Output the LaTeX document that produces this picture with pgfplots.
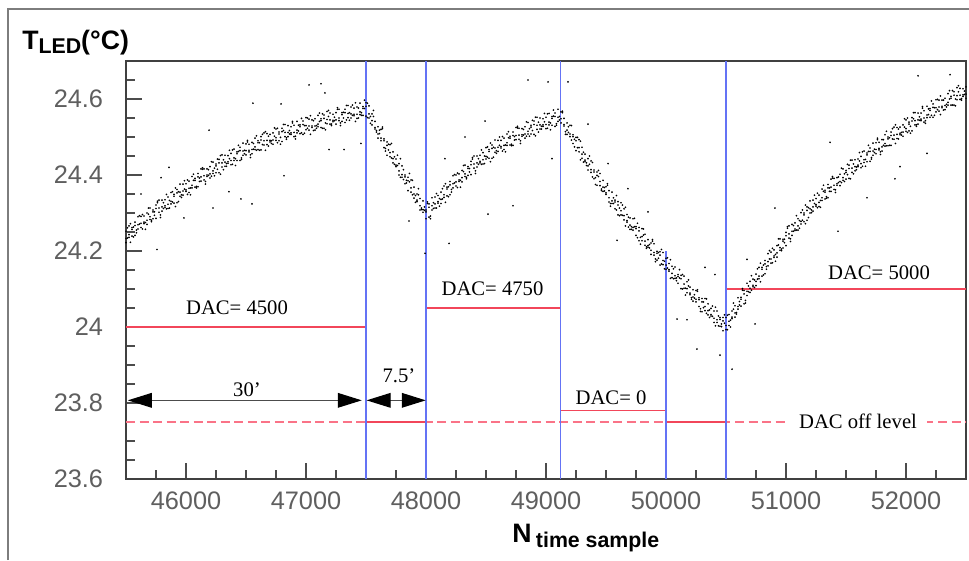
\documentclass[border=0pt]{standalone}
\usepackage{fontspec}
\setmainfont{Liberation Serif}
\setsansfont{Liberation Sans}
\usepackage{pgfplots}
\usepackage{pgfplotstable}
\pgfplotsset{compat=1.18}
\usetikzlibrary{arrows.meta}
\definecolor{vblue}{RGB}{100,115,245}
\definecolor{dacred}{RGB}{242,70,90}
\definecolor{dashred}{RGB}{250,115,135}
\definecolor{tickgray}{RGB}{95,95,95}
\definecolor{framegray}{RGB}{125,125,125}

\pgfplotstableread{
x a b c
45500 24.252 24.233 24.222
45525 24.243 24.266 24.236
45550 24.262 24.239 24.257
45575 24.241 24.267 24.276
45600 24.269 24.258 24.290
45625 24.291 24.273 24.262
45650 24.272 24.292 24.276
45675 24.300 24.281 24.270
45700 24.290 24.313 24.283
45725 24.308 24.285 24.303
45750 24.286 24.312 24.321
45775 24.313 24.302 24.334
45800 24.334 24.316 24.305
45825 24.315 24.335 24.319
45850 24.342 24.323 24.312
45875 24.331 24.354 24.324
45900 24.349 24.326 24.344
45925 24.327 24.353 24.362
45950 24.355 24.344 24.376
45975 24.376 24.358 24.347
46000 24.357 24.377 24.361
46025 24.384 24.365 24.354
46050 24.373 24.396 24.366
46075 24.391 24.368 24.386
46100 24.369 24.395 24.404
46125 24.395 24.384 24.416
46150 24.416 24.398 24.387
46175 24.396 24.416 24.400
46200 24.422 24.403 24.392
46225 24.411 24.434 24.404
46250 24.429 24.406 24.424
46275 24.406 24.432 24.441
46300 24.432 24.421 24.453
46325 24.452 24.434 24.423
46350 24.431 24.451 24.435
46375 24.457 24.438 24.427
46400 24.445 24.468 24.438
46425 24.461 24.438 24.456
46450 24.438 24.464 24.473
46475 24.463 24.452 24.484
46500 24.482 24.464 24.453
46525 24.461 24.481 24.465
46550 24.486 24.467 24.456
46575 24.474 24.497 24.467
46600 24.490 24.467 24.485
46625 24.466 24.492 24.501
46650 24.490 24.479 24.511
46675 24.509 24.491 24.480
46700 24.487 24.507 24.491
46725 24.511 24.492 24.481
46750 24.498 24.521 24.491
46775 24.513 24.490 24.508
46800 24.488 24.514 24.523
46825 24.512 24.501 24.533
46850 24.530 24.512 24.501
46875 24.507 24.527 24.511
46900 24.531 24.512 24.501
46925 24.518 24.541 24.511
46950 24.532 24.509 24.527
46975 24.507 24.533 24.542
47000 24.530 24.519 24.551
47025 24.547 24.529 24.518
47050 24.525 24.545 24.529
47075 24.548 24.529 24.518
47100 24.534 24.557 24.527
47125 24.548 24.525 24.543
47150 24.523 24.549 24.558
47175 24.546 24.535 24.567
47200 24.563 24.545 24.534
47225 24.540 24.560 24.544
47250 24.564 24.545 24.534
47275 24.550 24.573 24.543
47300 24.564 24.541 24.559
47325 24.538 24.564 24.573
47350 24.562 24.551 24.583
47375 24.579 24.561 24.550
47400 24.556 24.576 24.560
47425 24.579 24.560 24.549
47450 24.566 24.589 24.559
47475 24.580 24.557 24.575
47500 24.555 24.581 24.590
47525 24.561 24.550 24.582
47550 24.561 24.543 24.532
47575 24.521 24.541 24.525
47600 24.527 24.508 24.497
47625 24.497 24.520 24.490
47650 24.495 24.472 24.490
47675 24.452 24.478 24.487
47700 24.459 24.448 24.480
47725 24.461 24.443 24.432
47750 24.422 24.442 24.426
47775 24.430 24.411 24.400
47800 24.401 24.424 24.394
47825 24.400 24.377 24.395
47850 24.359 24.385 24.394
47875 24.366 24.355 24.387
47900 24.368 24.350 24.339
47925 24.330 24.350 24.334
47950 24.338 24.319 24.308
47975 24.309 24.332 24.302
48000 24.308 24.285 24.303
48025 24.289 24.315 24.324
48050 24.319 24.308 24.340
48075 24.342 24.324 24.313
48100 24.326 24.346 24.330
48125 24.355 24.336 24.325
48150 24.348 24.371 24.341
48175 24.368 24.345 24.363
48200 24.348 24.374 24.383
48225 24.377 24.366 24.398
48250 24.400 24.382 24.371
48275 24.383 24.403 24.387
48300 24.412 24.393 24.382
48325 24.403 24.426 24.396
48350 24.422 24.399 24.417
48375 24.401 24.427 24.436
48400 24.429 24.418 24.450
48425 24.450 24.432 24.421
48450 24.432 24.452 24.436
48475 24.459 24.440 24.429
48500 24.449 24.472 24.442
48525 24.467 24.444 24.462
48550 24.444 24.470 24.479
48575 24.471 24.460 24.492
48600 24.491 24.473 24.462
48625 24.471 24.491 24.475
48650 24.497 24.478 24.467
48675 24.485 24.508 24.478
48700 24.502 24.479 24.497
48725 24.478 24.504 24.513
48750 24.504 24.493 24.525
48775 24.523 24.505 24.494
48800 24.502 24.522 24.506
48825 24.527 24.508 24.497
48850 24.515 24.538 24.508
48875 24.531 24.508 24.526
48900 24.507 24.533 24.542
48925 24.531 24.520 24.552
48950 24.550 24.532 24.521
48975 24.528 24.548 24.532
49000 24.552 24.533 24.522
49025 24.539 24.562 24.532
49050 24.554 24.531 24.549
49075 24.528 24.554 24.563
49100 24.552 24.541 24.573
49125 24.566 24.548 24.537
49150 24.529 24.549 24.533
49175 24.537 24.518 24.507
49200 24.508 24.531 24.501
49225 24.506 24.483 24.501
49250 24.464 24.490 24.499
49275 24.472 24.461 24.493
49300 24.473 24.455 24.444
49325 24.435 24.455 24.439
49350 24.443 24.424 24.413
49375 24.414 24.437 24.407
49400 24.413 24.390 24.408
49425 24.373 24.399 24.408
49450 24.383 24.372 24.404
49475 24.386 24.368 24.357
49500 24.349 24.369 24.353
49525 24.359 24.340 24.329
49550 24.332 24.355 24.325
49575 24.334 24.311 24.329
49600 24.295 24.321 24.330
49625 24.306 24.295 24.327
49650 24.311 24.293 24.282
49675 24.276 24.296 24.280
49700 24.287 24.268 24.257
49725 24.262 24.285 24.255
49750 24.264 24.241 24.259
49775 24.227 24.253 24.262
49800 24.238 24.227 24.259
49825 24.244 24.226 24.215
49850 24.210 24.230 24.214
49875 24.221 24.202 24.191
49900 24.196 24.219 24.189
49925 24.199 24.176 24.194
49950 24.163 24.189 24.198
49975 24.175 24.164 24.196
50000 24.181 24.163 24.152
50025 24.147 24.167 24.151
50050 24.160 24.141 24.130
50075 24.135 24.158 24.128
50100 24.138 24.115 24.133
50125 24.101 24.127 24.136
50150 24.113 24.102 24.134
50175 24.119 24.101 24.090
50200 24.085 24.105 24.089
50225 24.098 24.079 24.068
50250 24.073 24.096 24.066
50275 24.077 24.054 24.072
50300 24.040 24.066 24.075
50325 24.054 24.043 24.075
50350 24.061 24.043 24.032
50375 24.029 24.049 24.033
50400 24.042 24.023 24.012
50425 24.019 24.042 24.012
50450 24.025 24.002 24.020
50475 23.990 24.016 24.025
50500 24.004 23.993 24.025
50525 24.033 24.015 24.004
50550 24.022 24.042 24.026
50575 24.056 24.037 24.026
50600 24.054 24.077 24.047
50625 24.078 24.055 24.073
50650 24.061 24.087 24.096
50675 24.094 24.083 24.115
50700 24.120 24.102 24.091
50725 24.106 24.126 24.110
50750 24.139 24.120 24.109
50775 24.134 24.157 24.127
50800 24.157 24.134 24.152
50825 24.140 24.166 24.175
50850 24.172 24.161 24.193
50875 24.197 24.179 24.168
50900 24.183 24.203 24.187
50925 24.214 24.195 24.184
50950 24.209 24.232 24.202
50975 24.231 24.208 24.226
51000 24.214 24.240 24.249
51025 24.245 24.234 24.266
51050 24.270 24.252 24.241
51075 24.254 24.274 24.258
51100 24.285 24.266 24.255
51125 24.278 24.301 24.271
51150 24.300 24.277 24.295
51175 24.281 24.307 24.316
51200 24.311 24.300 24.332
51225 24.334 24.316 24.305
51250 24.318 24.338 24.322
51275 24.347 24.328 24.317
51300 24.340 24.363 24.333
51325 24.360 24.337 24.355
51350 24.340 24.366 24.375
51375 24.368 24.357 24.389
51400 24.391 24.373 24.362
51425 24.373 24.393 24.377
51450 24.402 24.383 24.372
51475 24.393 24.416 24.386
51500 24.412 24.389 24.407
51525 24.391 24.417 24.426
51550 24.418 24.407 24.439
51575 24.440 24.422 24.411
51600 24.422 24.442 24.426
51625 24.449 24.430 24.419
51650 24.440 24.463 24.433
51675 24.458 24.435 24.453
51700 24.436 24.462 24.471
51725 24.463 24.452 24.484
51750 24.485 24.467 24.456
51775 24.466 24.486 24.470
51800 24.493 24.474 24.463
51825 24.483 24.506 24.476
51850 24.500 24.477 24.495
51875 24.478 24.504 24.513
51900 24.505 24.494 24.526
51925 24.525 24.507 24.496
51950 24.506 24.526 24.510
51975 24.532 24.513 24.502
52000 24.522 24.545 24.515
52025 24.539 24.516 24.534
52050 24.516 24.542 24.551
52075 24.543 24.532 24.564
52100 24.563 24.545 24.534
52125 24.543 24.563 24.547
52150 24.569 24.550 24.539
52175 24.558 24.581 24.551
52200 24.575 24.552 24.570
52225 24.552 24.578 24.587
52250 24.577 24.566 24.598
52275 24.597 24.579 24.568
52300 24.577 24.597 24.581
52325 24.602 24.583 24.572
52350 24.591 24.614 24.584
52375 24.607 24.584 24.602
52400 24.584 24.610 24.619
52425 24.609 24.598 24.630
52450 24.628 24.610 24.599
52475 24.607 24.627 24.611
52500 24.632 24.613 24.602
}\band

\pgfplotstableread{
x d e
45512 24.261 24.234
45537 24.223 24.272
45562 24.263 24.237
45587 24.248 24.255
45612 24.271 24.293
45637 24.296 24.258
45662 24.257 24.275
45687 24.297 24.313
45712 24.281 24.277
45737 24.303 24.294
45762 24.327 24.331
45787 24.288 24.295
45812 24.327 24.312
45837 24.311 24.349
45862 24.333 24.313
45887 24.356 24.329
45912 24.317 24.366
45937 24.356 24.330
45962 24.341 24.348
45987 24.363 24.385
46012 24.387 24.349
46037 24.348 24.366
46062 24.386 24.402
46087 24.370 24.366
46112 24.392 24.383
46137 24.415 24.419
46162 24.376 24.383
46187 24.414 24.399
46212 24.397 24.435
46237 24.418 24.398
46262 24.442 24.415
46287 24.402 24.451
46312 24.440 24.414
46337 24.423 24.430
46362 24.443 24.465
46387 24.466 24.428
46412 24.425 24.443
46437 24.462 24.478
46462 24.445 24.441
46487 24.465 24.456
46512 24.487 24.491
46537 24.446 24.453
46562 24.483 24.468
46587 24.465 24.503
46612 24.485 24.465
46637 24.507 24.480
46662 24.465 24.514
46687 24.502 24.476
46712 24.483 24.490
46737 24.502 24.524
46762 24.523 24.485
46787 24.481 24.499
46812 24.517 24.533
46837 24.498 24.494
46862 24.517 24.508
46887 24.537 24.541
46912 24.495 24.502
46937 24.531 24.516
46962 24.511 24.549
46987 24.530 24.510
47012 24.550 24.523
47037 24.507 24.556
47062 24.543 24.517
47087 24.523 24.530
47112 24.541 24.563
47137 24.561 24.523
47162 24.519 24.537
47187 24.554 24.570
47212 24.534 24.530
47237 24.552 24.543
47262 24.573 24.577
47287 24.530 24.537
47312 24.565 24.550
47337 24.545 24.583
47362 24.564 24.544
47387 24.584 24.557
47412 24.541 24.590
47437 24.576 24.550
47462 24.557 24.564
47487 24.575 24.597
47512 24.589 24.551
47537 24.536 24.554
47562 24.554 24.570
47587 24.517 24.513
47612 24.518 24.509
47637 24.522 24.526
47662 24.463 24.470
47687 24.481 24.466
47712 24.445 24.483
47737 24.448 24.428
47762 24.452 24.425
47787 24.394 24.443
47812 24.414 24.388
47837 24.379 24.386
47862 24.382 24.404
47887 24.386 24.348
47912 24.328 24.346
47937 24.348 24.364
47962 24.313 24.309
47987 24.316 24.307
48012 24.325 24.329
48037 24.285 24.292
48062 24.327 24.312
48087 24.313 24.351
48112 24.338 24.318
48137 24.364 24.337
48162 24.328 24.377
48187 24.369 24.343
48212 24.355 24.362
48237 24.379 24.401
48262 24.405 24.367
48287 24.368 24.386
48312 24.409 24.425
48337 24.394 24.390
48362 24.417 24.408
48387 24.442 24.446
48412 24.404 24.411
48437 24.443 24.428
48462 24.428 24.466
48487 24.450 24.430
48512 24.474 24.447
48537 24.435 24.484
48562 24.473 24.447
48587 24.457 24.464
48612 24.478 24.500
48637 24.501 24.463
48662 24.461 24.479
48687 24.498 24.514
48712 24.481 24.477
48737 24.501 24.492
48762 24.524 24.528
48787 24.483 24.490
48812 24.520 24.505
48837 24.502 24.540
48862 24.522 24.502
48887 24.544 24.517
48912 24.503 24.552
48937 24.539 24.513
48962 24.521 24.528
48987 24.540 24.562
49012 24.561 24.523
49037 24.519 24.537
49062 24.555 24.571
49087 24.535 24.531
49112 24.554 24.545
49137 24.564 24.568
49162 24.507 24.514
49187 24.527 24.512
49212 24.492 24.530
49237 24.494 24.474
49262 24.499 24.472
49287 24.440 24.489
49312 24.460 24.434
49337 24.425 24.432
49362 24.428 24.450
49387 24.433 24.395
49412 24.375 24.393
49437 24.396 24.412
49462 24.363 24.359
49487 24.367 24.358
49512 24.373 24.377
49537 24.318 24.325
49562 24.340 24.325
49587 24.308 24.346
49612 24.313 24.293
49637 24.321 24.294
49662 24.266 24.315
49687 24.289 24.263
49712 24.257 24.264
49737 24.264 24.286
49762 24.273 24.235
49787 24.218 24.236
49812 24.242 24.258
49837 24.211 24.207
49862 24.217 24.208
49887 24.226 24.230
49912 24.172 24.179
49937 24.196 24.181
49962 24.166 24.204
49987 24.173 24.153
50012 24.182 24.155
50037 24.128 24.177
50062 24.153 24.127
50087 24.122 24.129
50112 24.129 24.151
50137 24.138 24.100
50162 24.084 24.102
50187 24.108 24.124
50212 24.077 24.073
50237 24.085 24.076
50262 24.094 24.098
50287 24.041 24.048
50312 24.066 24.051
50337 24.036 24.074
50362 24.045 24.025
50387 24.055 24.028
50412 24.003 24.052
50437 24.029 24.003
50462 24.001 24.008
50487 24.010 24.032
50512 24.031 23.993
50537 24.000 24.018
50562 24.047 24.063
50587 24.038 24.034
50612 24.067 24.058
50637 24.097 24.101
50662 24.063 24.070
50687 24.108 24.093
50712 24.097 24.135
50737 24.124 24.104
50762 24.153 24.126
50787 24.119 24.168
50812 24.163 24.137
50837 24.152 24.159
50862 24.179 24.201
50887 24.207 24.169
50912 24.173 24.191
50937 24.216 24.232
50962 24.205 24.201
50987 24.231 24.222
51012 24.260 24.264
51037 24.225 24.232
51062 24.267 24.252
51087 24.255 24.293
51112 24.280 24.260
51137 24.308 24.281
51162 24.272 24.321
51187 24.314 24.288
51212 24.301 24.308
51237 24.325 24.347
51262 24.352 24.314
51287 24.315 24.333
51312 24.357 24.373
51337 24.343 24.339
51362 24.366 24.357
51387 24.392 24.396
51412 24.354 24.361
51437 24.395 24.380
51462 24.380 24.418
51487 24.403 24.383
51512 24.428 24.401
51537 24.390 24.439
51562 24.429 24.403
51587 24.414 24.421
51612 24.437 24.459
51637 24.461 24.423
51662 24.423 24.441
51687 24.462 24.478
51712 24.446 24.442
51737 24.468 24.459
51762 24.493 24.497
51787 24.454 24.461
51812 24.493 24.478
51837 24.477 24.515
51862 24.498 24.478
51887 24.522 24.495
51912 24.483 24.532
51937 24.521 24.495
51962 24.505 24.512
51987 24.526 24.548
52012 24.550 24.512
52037 24.510 24.528
52062 24.548 24.564
52087 24.532 24.528
52112 24.553 24.544
52137 24.576 24.580
52162 24.536 24.543
52187 24.574 24.559
52212 24.557 24.595
52237 24.577 24.557
52262 24.599 24.572
52287 24.559 24.608
52312 24.597 24.571
52337 24.579 24.586
52362 24.600 24.622
52387 24.622 24.584
52412 24.582 24.600
52437 24.619 24.635
52462 24.601 24.597
52487 24.621 24.612
}\bandb

\pgfplotstableread{
x y
47025 24.637
47125 24.640
46558 24.589
46792 24.587
47158 24.616
46192 24.518
45858 24.420
45792 24.393
45625 24.350
46225 24.313
46458 24.337
46550 24.324
45758 24.204
45983 24.287
46358 24.356
46817 24.398
47192 24.467
47458 24.483
47317 24.467
48850 24.650
49017 24.645
49183 24.645
48492 24.542
48325 24.500
48158 24.443
48517 24.297
48725 24.319
48192 24.220
47992 24.194
47858 24.279
49350 24.534
49683 24.364
49517 24.430
49850 24.303
50408 24.138
50325 24.157
50175 24.019
50092 24.021
49592 24.228
49050 24.443
52100 24.661
52367 24.664
51367 24.486
51675 24.340
51433 24.252
51908 24.390
50908 24.313
50742 24.008
51950 24.422
52175 24.457
50675 24.178
50550 23.889
50258 23.942
50450 23.926
}\outl

\begin{document}
\begin{tikzpicture}
\useasboundingbox (-94.5pt,-60.75pt) rectangle (632.25pt,359.25pt);
\fill[white] (-94.5pt,-60.75pt) rectangle (632.25pt,359.25pt);
\draw[framegray, line width=0.9pt] (-88.5pt,-60.75pt) -- (-88.5pt,352.5pt) -- (632.25pt,352.5pt);
\begin{axis}[
  scale only axis, width=630pt, height=313.5pt,
  xmin=45500, xmax=52500, ymin=23.6, ymax=24.7,
  scaled x ticks=false,
  xtick={46000,47000,48000,49000,50000,51000,52000},
  xticklabels={46000,47000,48000,49000,50000,51000,52000},
  ytick={23.6,23.8,24,24.2,24.4,24.6},
  yticklabels={23.6,23.8,24,24.2,24.4,24.6},
  minor xtick={45750,46250,46500,46750,47250,47500,47750,48250,48500,48750,49250,49500,49750,50250,50500,50750,51250,51500,51750,52250},
  minor ytick={23.65,23.7,23.75,23.85,23.9,23.95,24.05,24.1,24.15,24.25,24.3,24.35,24.45,24.5,24.55,24.65},
  tick align=inside, xtick pos=bottom, ytick pos=left,
  major tick length=12pt, minor tick length=6.5pt,
  every tick/.style={black!70, line width=0.8pt},
  axis line style={black!75, line width=1pt},
  tick label style={font=\sffamily\fontsize{19}{21}\selectfont, text=tickgray},
  xticklabel style={anchor=north, inner sep=0pt, yshift=-9.75pt},
  yticklabel style={anchor=east, inner sep=0pt, xshift=-17pt},
  scatter dot/.style={only marks, mark=*, mark size=0.42pt, mark options={draw=none, fill=black!65}},
]
% DAC off level dashed
\addplot[dashred, line width=0.9pt, dash pattern=on 6.75pt off 3.4pt] coordinates {(45500,23.75) (52500,23.75)};
\addplot[dacred, line width=1pt] coordinates {(47500,23.75) (48000,23.75)};
\addplot[dacred, line width=1pt] coordinates {(50000,23.75) (50500,23.75)};
% DAC levels
\addplot[dacred, line width=0.9pt] coordinates {(45500,24.0) (47500,24.0)};
\addplot[dacred, line width=0.9pt] coordinates {(48000,24.05) (49120,24.05)};
\addplot[dacred, line width=0.9pt] coordinates {(49120,23.78) (50000,23.78)};
\addplot[dacred, line width=0.9pt] coordinates {(50500,24.1) (52500,24.1)};
% vertical lines
\addplot[vblue, line width=0.9pt] coordinates {(47500,23.6) (47500,24.7)};
\addplot[vblue, line width=0.9pt] coordinates {(48000,23.6) (48000,24.7)};
\addplot[vblue, line width=0.9pt] coordinates {(49120,23.6) (49120,24.7)};
\addplot[vblue, line width=0.9pt] coordinates {(50000,23.6) (50000,24.2)};
\addplot[vblue, line width=0.9pt] coordinates {(50500,23.6) (50500,24.7)};
% scatter
\addplot[scatter dot] table[x=x, y=a] {\band};
\addplot[scatter dot] table[x=x, y=b] {\band};
\addplot[scatter dot] table[x=x, y=c] {\band};
\addplot[scatter dot] table[x=x, y=d] {\bandb};
\addplot[scatter dot] table[x=x, y=e] {\bandb};
\addplot[scatter dot] table[x=x, y=y] {\outl};
% arrows
\draw[black!70, line width=0.9pt, {Triangle[length=18pt,width=11pt,black]}-{Triangle[length=18pt,width=11pt,black]}] (axis cs:45515,23.807) -- (axis cs:47465,23.807);
\draw[black!70, line width=0.9pt, {Triangle[length=18pt,width=11pt,black]}-{Triangle[length=18pt,width=11pt,black]}] (axis cs:47505,23.807) -- (axis cs:47998,23.807);
% texts
\begin{scope}[every node/.style={font=\fontsize{15.5}{17}\selectfont, inner sep=0pt}]
\node[anchor=base] at (axis cs:46425,24.032) {DAC= 4500};
\node[anchor=base] at (axis cs:48554,24.084) {DAC= 4750};
\node[anchor=base] at (axis cs:49542,23.795) {DAC= 0};
\node[anchor=base] at (axis cs:51775,24.126) {DAC= 5000};
\node[anchor=base, fill=white, inner xsep=7.5pt, inner ysep=2pt] at (axis cs:51600,23.734) {DAC off level};
\node[anchor=base] at (axis cs:46508,23.817) {30’};
\node[anchor=base] at (axis cs:47775,23.855) {7.5’};
\end{scope}
\end{axis}
\node[anchor=base west, inner sep=0pt, font=\sffamily\bfseries\fontsize{20}{22}\selectfont] at (-78pt,321.75pt) {T\raisebox{-3pt}{\fontsize{16}{18}\selectfont LED}(°C)};
\node[anchor=base west, inner sep=0pt, font=\sffamily\bfseries\fontsize{20}{22}\selectfont] at (289.5pt,-47.25pt) {N\,\raisebox{-3.75pt}{\fontsize{16}{18}\selectfont time sample}};
\end{tikzpicture}
\end{document}
